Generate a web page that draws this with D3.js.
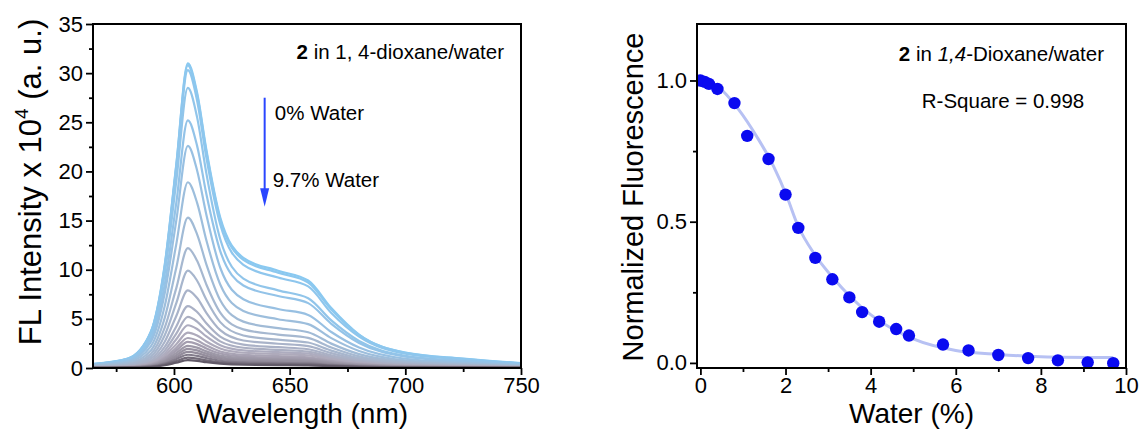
<!DOCTYPE html>
<html>
<head>
<meta charset="utf-8">
<script src="https://cdn.jsdelivr.net/npm/d3@7"></script>
<style>
  html, body { margin: 0; padding: 0; background: #fff; }
  svg text { font-family: "Liberation Sans", Arial, sans-serif; fill: #000; }
</style>
</head>
<body>
<div id="chart"></div>
<script>

// ---- Data: emission spectra (left panel) ----
var wavelengths = [565, 580, 590, 596, 601, 606, 610, 614, 620, 630, 645, 658, 668, 680, 700, 725, 750];

// one row per water fraction, from 0% water (top) to 9.7% water (bottom), FL x 10^4
var spectra = [
  [0.40, 0.95, 3.70, 10.5, 20.7, 31.0, 28.0, 22.2, 15.3, 11.2, 9.90, 8.90, 6.10, 3.40, 1.57, 0.96, 0.49],
  [0.40, 0.94, 3.66, 10.4, 20.6, 30.8, 27.8, 22.0, 15.1, 11.0, 9.70, 8.70, 5.95, 3.36, 1.54, 0.94, 0.48],
  [0.40, 0.93, 3.60, 10.2, 20.3, 30.3, 27.2, 21.4, 14.6, 10.5, 9.20, 8.30, 5.60, 3.20, 1.46, 0.89, 0.46],
  [0.38, 0.87, 3.35, 9.60, 19.0, 28.5, 25.5, 19.8, 13.1, 9.10, 7.90, 7.10, 4.84, 2.75, 1.25, 0.74, 0.39],
  [0.33, 0.77, 2.98, 8.50, 16.8, 25.2, 22.6, 17.7, 11.9, 8.40, 7.33, 6.60, 4.50, 2.55, 1.16, 0.69, 0.36],
  [0.30, 0.69, 2.65, 7.60, 15.0, 22.6, 20.1, 15.6, 10.2, 7.00, 6.00, 5.40, 3.66, 2.08, 0.94, 0.56, 0.30],
  [0.26, 0.58, 2.20, 6.30, 12.6, 18.9, 16.8, 13.0, 8.50, 5.80, 4.96, 4.46, 3.04, 1.73, 0.78, 0.47, 0.25],
  [0.21, 0.47, 1.79, 5.10, 10.2, 15.3, 13.6, 10.55, 6.90, 4.72, 4.05, 3.64, 2.48, 1.41, 0.64, 0.38, 0.20],
  [0.16, 0.37, 1.44, 4.10, 8.13, 12.2, 10.9, 8.50, 5.64, 3.93, 3.40, 3.06, 2.08, 1.18, 0.54, 0.32, 0.17],
  [0.13, 0.30, 1.17, 3.33, 6.60, 9.90, 8.88, 6.95, 4.67, 3.31, 2.88, 2.59, 1.77, 1.00, 0.46, 0.27, 0.14],
  [0.10, 0.24, 0.94, 2.67, 5.29, 7.90, 7.12, 5.62, 3.85, 2.80, 2.47, 2.22, 1.51, 0.86, 0.39, 0.23, 0.12],
  [0.08, 0.19, 0.75, 2.14, 4.22, 6.30, 5.70, 4.55, 3.19, 2.38, 2.12, 1.91, 1.30, 0.73, 0.34, 0.20, 0.10],
  [0.07, 0.16, 0.62, 1.77, 3.49, 5.20, 4.72, 3.80, 2.71, 2.06, 1.85, 1.67, 1.13, 0.64, 0.29, 0.17, 0.09],
  [0.05, 0.13, 0.53, 1.48, 2.92, 4.35, 3.97, 3.21, 2.32, 1.79, 1.61, 1.46, 0.99, 0.55, 0.26, 0.15, 0.08],
  [0.04, 0.11, 0.44, 1.23, 2.42, 3.60, 3.30, 2.69, 1.98, 1.55, 1.41, 1.27, 0.87, 0.48, 0.22, 0.13, 0.07],
  [0.04, 0.09, 0.37, 1.05, 2.05, 3.05, 2.80, 2.29, 1.68, 1.33, 1.21, 1.09, 0.74, 0.41, 0.19, 0.11, 0.06],
  [0.03, 0.08, 0.32, 0.91, 1.78, 2.65, 2.43, 1.99, 1.47, 1.16, 1.06, 0.96, 0.65, 0.36, 0.17, 0.10, 0.05],
  [0.03, 0.07, 0.27, 0.77, 1.52, 2.25, 2.07, 1.69, 1.26, 1.00, 0.91, 0.82, 0.56, 0.31, 0.14, 0.09, 0.05],
  [0.02, 0.06, 0.24, 0.67, 1.31, 1.95, 1.79, 1.46, 1.09, 0.86, 0.79, 0.71, 0.48, 0.27, 0.12, 0.07, 0.04],
  [0.02, 0.05, 0.20, 0.56, 1.11, 1.65, 1.52, 1.24, 0.92, 0.72, 0.66, 0.59, 0.40, 0.22, 0.10, 0.06, 0.03],
  [0.02, 0.04, 0.16, 0.46, 0.91, 1.35, 1.23, 1.01, 0.74, 0.58, 0.52, 0.47, 0.32, 0.18, 0.08, 0.05, 0.03],
  [0.01, 0.03, 0.13, 0.36, 0.71, 1.05, 0.96, 0.78, 0.57, 0.45, 0.40, 0.36, 0.25, 0.14, 0.06, 0.04, 0.02],
  [0.01, 0.03, 0.10, 0.28, 0.54, 0.80, 0.73, 0.59, 0.44, 0.33, 0.30, 0.27, 0.19, 0.10, 0.05, 0.03, 0.02]
];

// colour ramp: light blue (0% water) -> grey (9.7% water)
var rampIndex = [0, 4, 8, 14, 19, 22];
var rampColors = ["#89c9f1", "#93c3e8", "#a6b8d0", "#aeaabb", "#948d9c", "#625a68"];

// ---- Data: normalized fluorescence (right panel) ----
var waterPct = [0, 0.1, 0.2, 0.4, 0.8, 1.1, 1.6, 2.0, 2.3, 2.7, 3.1, 3.5, 3.8, 4.2, 4.6, 4.9, 5.7, 6.3, 7.0, 7.7, 8.4, 9.1, 9.7];
var normFl   = [1.0, 0.995, 0.988, 0.97, 0.92, 0.804, 0.722, 0.596, 0.478, 0.372, 0.296, 0.232, 0.18, 0.146, 0.12, 0.097, 0.065, 0.044, 0.028, 0.017, 0.009, 0.002, -0.001];

// fitted curve
var fitX = [0, 0.4, 0.9, 1.33, 1.72, 2.03, 2.28, 2.69, 3.1, 3.5, 4.0, 4.62, 5.0, 6.0, 7.0, 8.0, 9.7];
var fitY = [1.01, 0.98, 0.897, 0.80, 0.696, 0.59, 0.49, 0.383, 0.304, 0.238, 0.171, 0.112, 0.085, 0.044, 0.03, 0.022, 0.019];

// ---- Ticks ----
var xTicksL = [600, 650, 700, 750], xMinorL = [575, 625, 675, 725];
var yTicksL = [0, 5, 10, 15, 20, 25, 30, 35], yMinorL = [2.5, 7.5, 12.5, 17.5, 22.5, 27.5, 32.5];
var xTicksR = [0, 2, 4, 6, 8, 10], xMinorR = [1, 3, 5, 7, 9];
var yTicksR = [0, 0.5, 1.0], yMinorR = [0.25, 0.75];


var width = 1142, height = 433;
var L = {left: 93, right: 521, top: 24, bottom: 368};   // left plot box
var R = {left: 697, right: 1126, top: 24, bottom: 368}; // right plot box

var svg = d3.select("#chart").append("svg")
    .attr("width", width)
    .attr("height", height);

var xL = d3.scaleLinear().domain([565, 750]).range([L.left, L.right]);
var yL = d3.scaleLinear().domain([0, 35]).range([L.bottom, L.top]);
var xR = d3.scaleLinear().domain([-0.08, 10]).range([R.left, R.right]);
var yR = d3.scaleLinear().domain([-0.018, 1.2]).range([R.bottom, R.top]);

var defs = svg.append("defs");
defs.append("clipPath").attr("id", "clipL").append("rect")
    .attr("x", L.left).attr("y", L.top).attr("width", L.right - L.left).attr("height", L.bottom - L.top);
defs.append("clipPath").attr("id", "clipR").append("rect")
    .attr("x", R.left).attr("y", R.top).attr("width", R.right - R.left).attr("height", R.bottom - R.top);

// Axes with major + minor ticks, drawn outward
function drawAxes(box, x, y, xt, xm, yt, ym, yfmt) {
  var g = svg.append("g");

  g.append("g").attr("transform", "translate(0," + box.bottom + ")")
      .call(d3.axisBottom(x).tickValues(xm).tickSize(4).tickSizeOuter(0).tickFormat(""));
  g.append("g").attr("transform", "translate(0," + box.bottom + ")")
      .call(d3.axisBottom(x).tickValues(xt).tickSize(7).tickSizeOuter(0).tickPadding(2).tickFormat(d3.format("d")));

  g.append("g").attr("transform", "translate(" + box.left + ",0)")
      .call(d3.axisLeft(y).tickValues(ym).tickSize(4).tickSizeOuter(0).tickFormat(""));
  g.append("g").attr("transform", "translate(" + box.left + ",0)")
      .call(d3.axisLeft(y).tickValues(yt).tickSize(7).tickSizeOuter(0).tickPadding(3).tickFormat(yfmt));

  g.selectAll(".domain").remove();
  g.selectAll(".tick line").attr("stroke", "#000").attr("stroke-width", 1.8);
  g.selectAll(".tick text")
      .attr("fill", "#000")
      .style("font-size", "22px")
      .style("font-family", "'Liberation Sans', Arial, sans-serif");

  // frame
  svg.append("rect")
      .attr("x", box.left).attr("y", box.top)
      .attr("width", box.right - box.left).attr("height", box.bottom - box.top)
      .attr("fill", "none").attr("stroke", "#000").attr("stroke-width", 2);
}

// ---------- Left panel ----------
var color = d3.scaleLinear().domain(rampIndex).range(rampColors);

var line = d3.line()
    .x(function(d, i) { return xL(wavelengths[i]); })
    .y(function(d) { return yL(d); })
    .curve(d3.curveMonotoneX);

svg.append("g").attr("clip-path", "url(#clipL)")
  .selectAll("path")
    .data(spectra)
  .enter().append("path")
    .attr("d", line)
    .attr("fill", "none")
    .attr("stroke", function(d, i) { return color(i); })
    .attr("stroke-width", 2.2);

drawAxes(L, xL, yL, xTicksL, xMinorL, yTicksL, yMinorL, d3.format("d"));

// title inside the box
var tL = svg.append("text")
    .attr("x", L.right - 17).attr("y", 59)
    .attr("text-anchor", "end")
    .style("font-size", "20.5px");
tL.append("tspan").attr("font-weight", "bold").text("2");
tL.append("tspan").text(" in 1, 4-dioxane/water");

// arrow 0% -> 9.7% water
var arrowX = xL(639.2);
svg.append("line")
    .attr("x1", arrowX).attr("x2", arrowX)
    .attr("y1", yL(27.5)).attr("y2", yL(18.0))
    .attr("stroke", "#2a46ff").attr("stroke-width", 2);
svg.append("path")
    .attr("d", "M" + (arrowX - 4.5) + "," + yL(18.3) + "L" + (arrowX + 4.5) + "," + yL(18.3) + "L" + arrowX + "," + yL(16.4) + "Z")
    .attr("fill", "#2a46ff");

svg.append("text").attr("x", xL(643.6)).attr("y", yL(25.2))
    .style("font-size", "20.5px").text("0% Water");
svg.append("text").attr("x", xL(642.7)).attr("y", yL(18.4))
    .style("font-size", "20.5px").text("9.7% Water");

// axis titles
svg.append("text")
    .attr("x", (L.left + L.right) / 2 - 5).attr("y", 423)
    .attr("text-anchor", "middle")
    .style("font-size", "28px")
    .text("Wavelength (nm)");

var yTitleL = svg.append("text")
    .attr("transform", "translate(41,182) rotate(-90)")
    .attr("text-anchor", "middle")
    .style("font-size", "31px");
yTitleL.append("tspan").text("FL Intensity x 10");
yTitleL.append("tspan").attr("dy", -13).style("font-size", "19px").text("4");
yTitleL.append("tspan").attr("dy", 13).text(" (a. u.)");

// ---------- Right panel ----------
var fitLine = d3.line()
    .x(function(d, i) { return xR(fitX[i]); })
    .y(function(d) { return yR(d); })
    .curve(d3.curveMonotoneX);

svg.append("path")
    .datum(fitY)
    .attr("clip-path", "url(#clipR)")
    .attr("d", fitLine)
    .attr("fill", "none")
    .attr("stroke", "#b7c1f3")
    .attr("stroke-width", 3);

svg.append("g").attr("clip-path", "url(#clipR)")
  .selectAll("circle")
    .data(normFl)
  .enter().append("circle")
    .attr("cx", function(d, i) { return xR(waterPct[i]); })
    .attr("cy", function(d) { return yR(d); })
    .attr("r", 6.2)
    .attr("fill", "#0a0af0");

drawAxes(R, xR, yR, xTicksR, xMinorR, yTicksR, yMinorR, d3.format(".1f"));

var tR = svg.append("text")
    .attr("x", R.right - 22).attr("y", 61)
    .attr("text-anchor", "end")
    .style("font-size", "20.5px");
tR.append("tspan").attr("font-weight", "bold").text("2");
tR.append("tspan").text(" in ");
tR.append("tspan").attr("font-style", "italic").text("1,4");
tR.append("tspan").text("-Dioxane/water");

svg.append("text")
    .attr("x", 1003).attr("y", 108)
    .attr("text-anchor", "middle")
    .style("font-size", "20.5px")
    .text("R-Square = 0.998");

svg.append("text")
    .attr("x", (R.left + R.right) / 2).attr("y", 423)
    .attr("text-anchor", "middle")
    .style("font-size", "28px")
    .text("Water (%)");

svg.append("text")
    .attr("transform", "translate(643,197) rotate(-90)")
    .attr("text-anchor", "middle")
    .style("font-size", "29px")
    .text("Normalized Fluorescence");

</script>
</body>
</html>
